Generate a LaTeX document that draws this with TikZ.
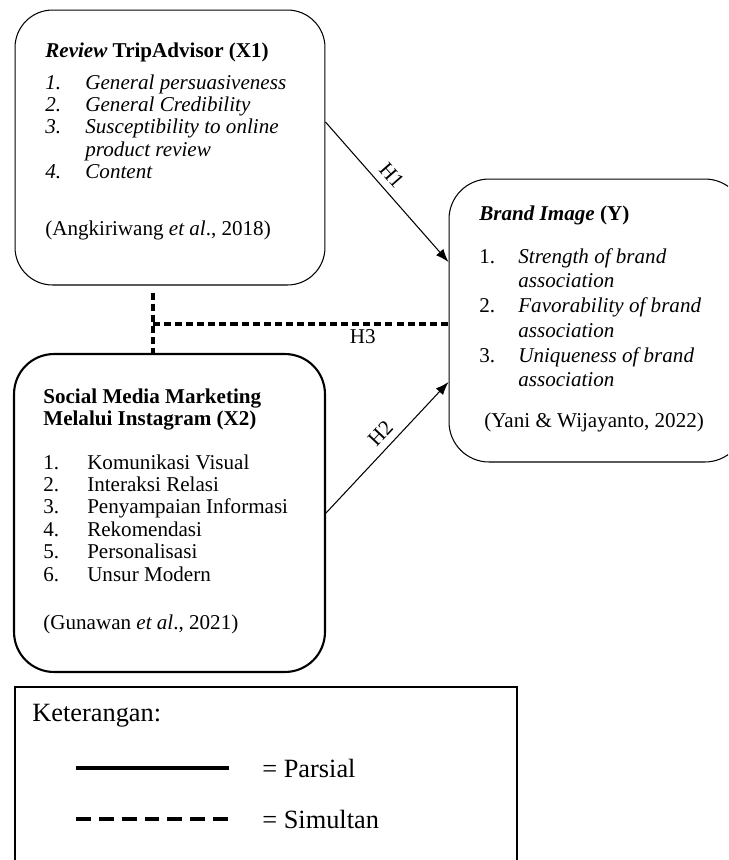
\documentclass[tikz,border=0pt]{standalone}
\usepackage{fontspec}
\setmainfont{Liberation Serif}
\usetikzlibrary{arrows.meta,calc}

\tikzset{
  varbox/.style={draw, inner sep=0pt, rounded corners=0.75cm},
  txt/.style={anchor=base west, inner sep=0pt, align=left, font=\fontsize{12}{12.8}\selectfont},
  ytxt/.style={txt, font=\fontsize{12}{14.1}\selectfont},
  legtxt/.style={anchor=base west, inner sep=0pt, font=\fontsize{15}{18}\selectfont},
  hlabel/.style={sloped, above, inner sep=4pt, font=\fontsize{12}{12.8}\selectfont},
  parsial/.style={line width=0.6pt, -{Latex[length=7.5pt,width=5.5pt]}},
  simul/.style={line width=1.8pt, dash pattern=on 4pt off 2.3pt}
}

\begin{document}
\begin{tikzpicture}[x=0.02cm, y=-0.02cm]
			%%%%% FRAME %%%%%
			\useasboundingbox (0,0) rectangle (728,860);
			\clip (0,0) rectangle (728,860);
			
			%%%%% BOXES %%%%%
			\node[varbox, line width=0.6pt, minimum width=6.2cm, minimum height=5.5cm] (x1) at (170,147.5) {};
			\node[varbox, line width=1.2pt, rounded corners=0.8cm, minimum width=6.22cm, minimum height=6.36cm] (x2) at (169.5,513) {};
			\node[varbox, line width=0.6pt, rounded corners=0.8cm, minimum width=5.92cm, minimum height=5.66cm] (yb) at (597,320.5) {};
			\node[draw, line width=1.2pt, inner sep=0pt, minimum width=10.04cm, minimum height=4.26cm] (legend) at (266,793.5) {};
			
			%%%%% X1 %%%%%
			\node[txt] (x1title) at (45,57) {\textbf{\textit{Review} TripAdvisor (X1)}};
			\node[txt] (x1list) at (45,89) {\begin{tabular}[t]{@{}p{22.8pt}@{}l@{}}
				\textit{1.} & \textit{General persuasiveness}\\
				\textit{2.} & \textit{General Credibility}\\
				\textit{3.} & \textit{Susceptibility to online}\\
				& \textit{product review}\\
				\textit{4.} & \textit{Content}
			\end{tabular}};
			\node[txt] (x1cite) at (45,235) {(Angkiriwang \textit{et al}., 2018)};
			
			%%%%% X2 %%%%%
			\node[txt] (x2title) at (43,425.5) {\textbf{Social Media Marketing}\\\textbf{Melalui Instagram (X2)}};
			\node[txt] (x2list) at (43,469) {\begin{tabular}[t]{@{}p{25pt}@{}l@{}}
				1. & Komunikasi Visual\\
				2. & Interaksi Relasi\\
				3. & Penyampaian Informasi\\
				4. & Rekomendasi\\
				5. & Personalisasi\\
				6. & Unsur Modern
			\end{tabular}};
			\node[txt] (x2cite) at (43,629) {(Gunawan \textit{et al}., 2021)};
			
			%%%%% Y %%%%%
			\node[ytxt] (ytitle) at (479,220) {\textbf{\textit{Brand Image} (Y)}};
			\node[ytxt] (ylist) at (479,263) {\begin{tabular}[t]{@{}p{22.2pt}@{}l@{}}
				1. & \textit{Strength of brand}\\
				& \textit{association}\\
				2. & \textit{Favorability of brand}\\
				& \textit{association}\\
				3. & \textit{Uniqueness of brand}\\
				& \textit{association}
			\end{tabular}};
			\node[ytxt] (ycite) at (484,427) {(Yani \& Wijayanto, 2022)};
			
			%%%%% PATHS %%%%%
			\draw[parsial] ([yshift=0.51cm]x1.east) -- ([yshift=1.17cm]yb.west)
				node[hlabel, pos=0.45] (h1) {H1};
			\draw[parsial] (x2.east) -- ([yshift=-1.23cm]yb.west)
				node[hlabel, pos=0.53] (h2) {H2};
			
			\coordinate (jn) at (153,324);
			\draw[simul, shorten <=0.14cm] (jn |- x1.south) -- (jn |- x2.north);
			\draw[simul] (jn) -- (jn -| yb.west)
				node[pos=0.71, below, inner sep=2pt, font=\fontsize{12}{12.8}\selectfont] (h3) {H3};
			
			%%%%% LEGEND %%%%%
			\node[legtxt] (ket) at (32,721) {Keterangan:};
			\node[legtxt] (lpar) at (262,777) {= Parsial};
			\node[legtxt] (lsim) at (262,828) {= Simultan};
			\coordinate (pars) at (76,768);
			\coordinate (sims) at (76,819);
			\draw[line width=2.8pt] (pars) -- ++(153,0);
			\draw[line width=2.8pt, dash pattern=on 8.5pt off 4.5pt] (sims) -- ++(153,0);
			
		\end{tikzpicture}
\end{document}
